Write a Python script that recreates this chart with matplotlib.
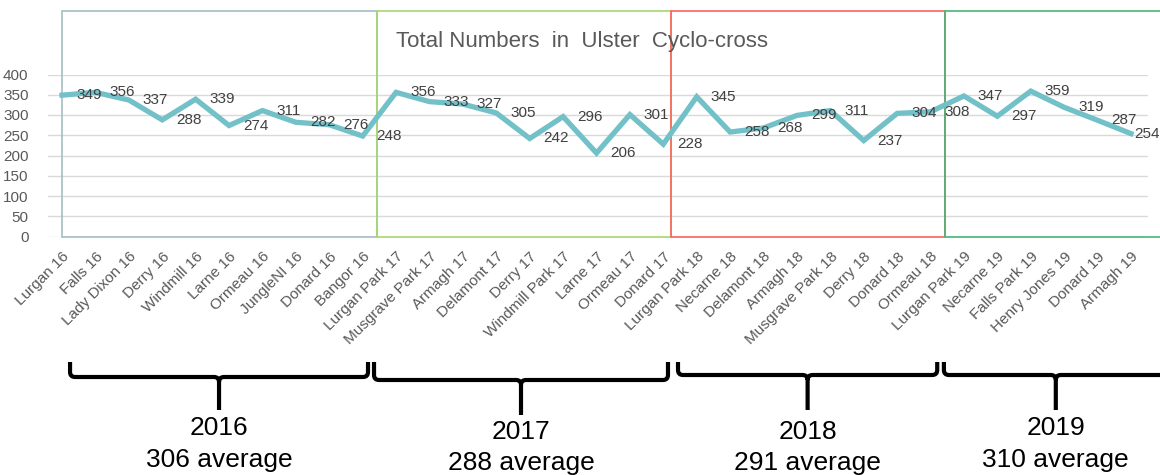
import matplotlib
matplotlib.use("Agg")
import matplotlib.pyplot as plt
from matplotlib.patches import Rectangle, PathPatch
from matplotlib.path import Path
from matplotlib.transforms import blended_transform_factory

plt.rcParams['font.family'] = ['Liberation Sans', 'DejaVu Sans']

races = ["Lurgan 16", "Falls 16", "Lady Dixon 16", "Derry 16", "Windmill 16", "Larne 16",
         "Ormeau 16", "JungleNI 16", "Donard 16", "Bangor 16",
         "Lurgan Park 17", "Musgrave Park 17", "Armagh 17", "Delamont 17", "Derry 17",
         "Windmill Park 17", "Larne 17", "Ormeau 17", "Donard 17",
         "Lurgan Park 18", "Necarne 18", "Delamont 18", "Armagh 18", "Musgrave Park 18",
         "Derry 18", "Donard 18", "Ormeau 18",
         "Lurgan Park 19", "Necarne 19", "Falls Park 19", "Henry Jones 19", "Donard 19",
         "Armagh 19"]
riders = [349, 356, 337, 288, 339, 274, 311, 282, 276, 248,
          356, 333, 327, 305, 242, 296, 206, 301, 228,
          345, 258, 268, 299, 311, 237, 304, 308,
          347, 297, 359, 319, 287, 254]
years = ["2016", "2017", "2018", "2019"]
averages = [306, 288, 291, 310]

# layout bits (hand drawn boxes and braces in the original)
box_edges = [0, 9.42, 18.22, 26.44, 33.2]
box_colors = ["#a3bec4", "#a6d86c", "#ff6060", "#45b674"]
brace_spans = [(0.24, 9.16), (9.34, 18.14), (18.44, 26.2), (26.4, 33.1)]
brace_line_y = [377, 380, 375, 375]
brace_stem_y = [410, 415, 410, 410]
year_text_y = [428, 432, 432, 428]
avg_text_y = [460, 463, 463, 460]

W, H = 1160, 475
fig = plt.figure(figsize=(W / 100, H / 100), dpi=100)
ax = fig.add_axes([48 / W, 1 - 236.5 / H, 1100 / W, 162 / H])

x = list(range(len(races)))
ax.plot(x, riders, color="#72c1c8", lw=3.8, solid_joinstyle="miter", zorder=3)

for i, v in enumerate(riders):
    off = 14 if i < len(riders) - 1 else 3
    ax.annotate(str(v), (i, v), xytext=(off, 0), textcoords="offset pixels",
                ha="left", va="center", fontsize=11, color="#404040", zorder=4,
                annotation_clip=False)

# category labels, slanted like excel does them
for i, name in enumerate(races):
    ax.annotate(name, (i, 0), xytext=(5, -18), textcoords="offset pixels",
                rotation=45, ha="right", va="center", rotation_mode="anchor",
                fontsize=11, color="#595959", annotation_clip=False)

ax.set_xlim(-0.42, 32.51)
ax.set_ylim(0, 400)
ax.set_yticks(range(0, 401, 50))
ax.set_xticks(x)
ax.set_xticklabels([])
ax.tick_params(axis="x", length=0)
ax.tick_params(axis="y", length=0, pad=14, labelsize=11, labelcolor="#595959")
ax.yaxis.grid(True, color="#d9d9d9", lw=1)
ax.set_axisbelow(True)
for s in ax.spines.values():
    s.set_visible(False)

# year boxes
for k in range(len(years)):
    ax.add_patch(Rectangle((box_edges[k], 0), box_edges[k + 1] - box_edges[k], 557,
                           fill=False, edgecolor=box_colors[k], lw=1.2,
                           clip_on=False, zorder=2))

fig.text(582 / W, 1 - 41 / H, "Total Numbers  in  Ulster  Cyclo-cross",
         ha="center", va="center", fontsize=16, color="#595959")

# braces under the axis
trans = blended_transform_factory(ax.transData, fig.transFigure)


def fy(py):
    return 1 - py / H


for k in range(len(years)):
    x0, x1 = brace_spans[k]
    xc = (x0 + x1) / 2
    ly = brace_line_y[k]
    rx = 0.15
    r = 5
    verts = [(x0, fy(362)), (x0, fy(ly - r)), (x0, fy(ly)), (x0 + rx, fy(ly)),
             (xc - rx, fy(ly)), (xc, fy(ly)), (xc, fy(ly + r)), (xc, fy(brace_stem_y[k])),
             (xc, fy(ly + r)), (xc, fy(ly)), (xc + rx, fy(ly)),
             (x1 - rx, fy(ly)), (x1, fy(ly)), (x1, fy(ly - r)), (x1, fy(362))]
    codes = [Path.MOVETO, Path.LINETO, Path.CURVE3, Path.CURVE3,
             Path.LINETO, Path.CURVE3, Path.CURVE3, Path.LINETO,
             Path.MOVETO, Path.CURVE3, Path.CURVE3,
             Path.LINETO, Path.CURVE3, Path.CURVE3, Path.LINETO]
    fig.add_artist(PathPatch(Path(verts, codes), transform=trans, fill=False,
                             edgecolor="black", lw=3, capstyle="butt"))
    fig.text(xc, fy(year_text_y[k]), years[k], transform=trans, ha="center",
             va="center", fontsize=19, color="black")
    fig.text(xc, fy(avg_text_y[k]), "{} average".format(averages[k]), transform=trans,
             ha="center", va="center", fontsize=19, color="black")

fig.savefig("out.png", dpi=100)
